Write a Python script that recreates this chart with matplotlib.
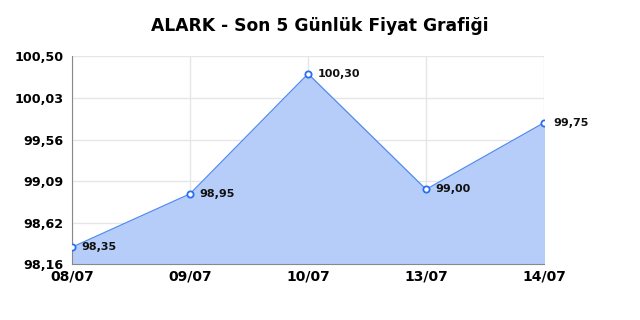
import matplotlib
matplotlib.use("Agg")
import matplotlib.pyplot as plt

dates = ["08/07", "09/07", "10/07", "13/07", "14/07"]
prices = [98.35, 98.95, 100.30, 99.00, 99.75]
yticks = [98.16, 98.62, 99.09, 99.56, 100.03, 100.50]
title = "ALARK - Son 5 Günlük Fiyat Grafiği"

def fmt(v):
    return f"{v:.2f}".replace(".", ",")

fig = plt.figure(figsize=(6.4, 3.2), dpi=100)
ax = fig.add_axes([0.1125, 0.175, 0.7375, 0.65])
x = list(range(len(dates)))
ax.fill_between(x, prices, yticks[0], color="#b5cdf8", zorder=2)
ax.plot(x, prices, color="#4f88ee", lw=0.8, zorder=3)
ax.plot(x, prices, "o", ms=4.5, mfc="white", mec="#2a6ff0", mew=1.3, zorder=4)
for xi, v in zip(x, prices):
    ax.annotate(fmt(v), (xi, v), xytext=(7, 0), textcoords="offset points",
                fontsize=8, fontweight="bold", color="#111111", va="center", zorder=5)
ax.set_xlim(0, len(dates) - 1)
ax.set_ylim(yticks[0], yticks[-1])
ax.set_xticks(x)
ax.set_xticklabels(dates)
ax.set_yticks(yticks)
ax.set_yticklabels([fmt(v) for v in yticks])
for lab in ax.get_xticklabels():
    lab.set_fontweight("bold")
    lab.set_fontsize(10)
for lab in ax.get_yticklabels():
    lab.set_fontweight("bold")
    lab.set_fontsize(9.2)
ax.tick_params(axis="y", length=0, pad=6)
ax.tick_params(axis="x", length=0, pad=4)
ax.grid(True, color="#e6e6e6", lw=1, zorder=0)
ax.set_axisbelow(True)
for s in ["top", "right"]:
    ax.spines[s].set_visible(False)
for s in ["left", "bottom"]:
    ax.spines[s].set_color("#888888")
fig.text(0.5, 0.92, title, ha="center", va="center", fontsize=12.3, fontweight="bold")
fig.savefig("out.png", dpi=100)
